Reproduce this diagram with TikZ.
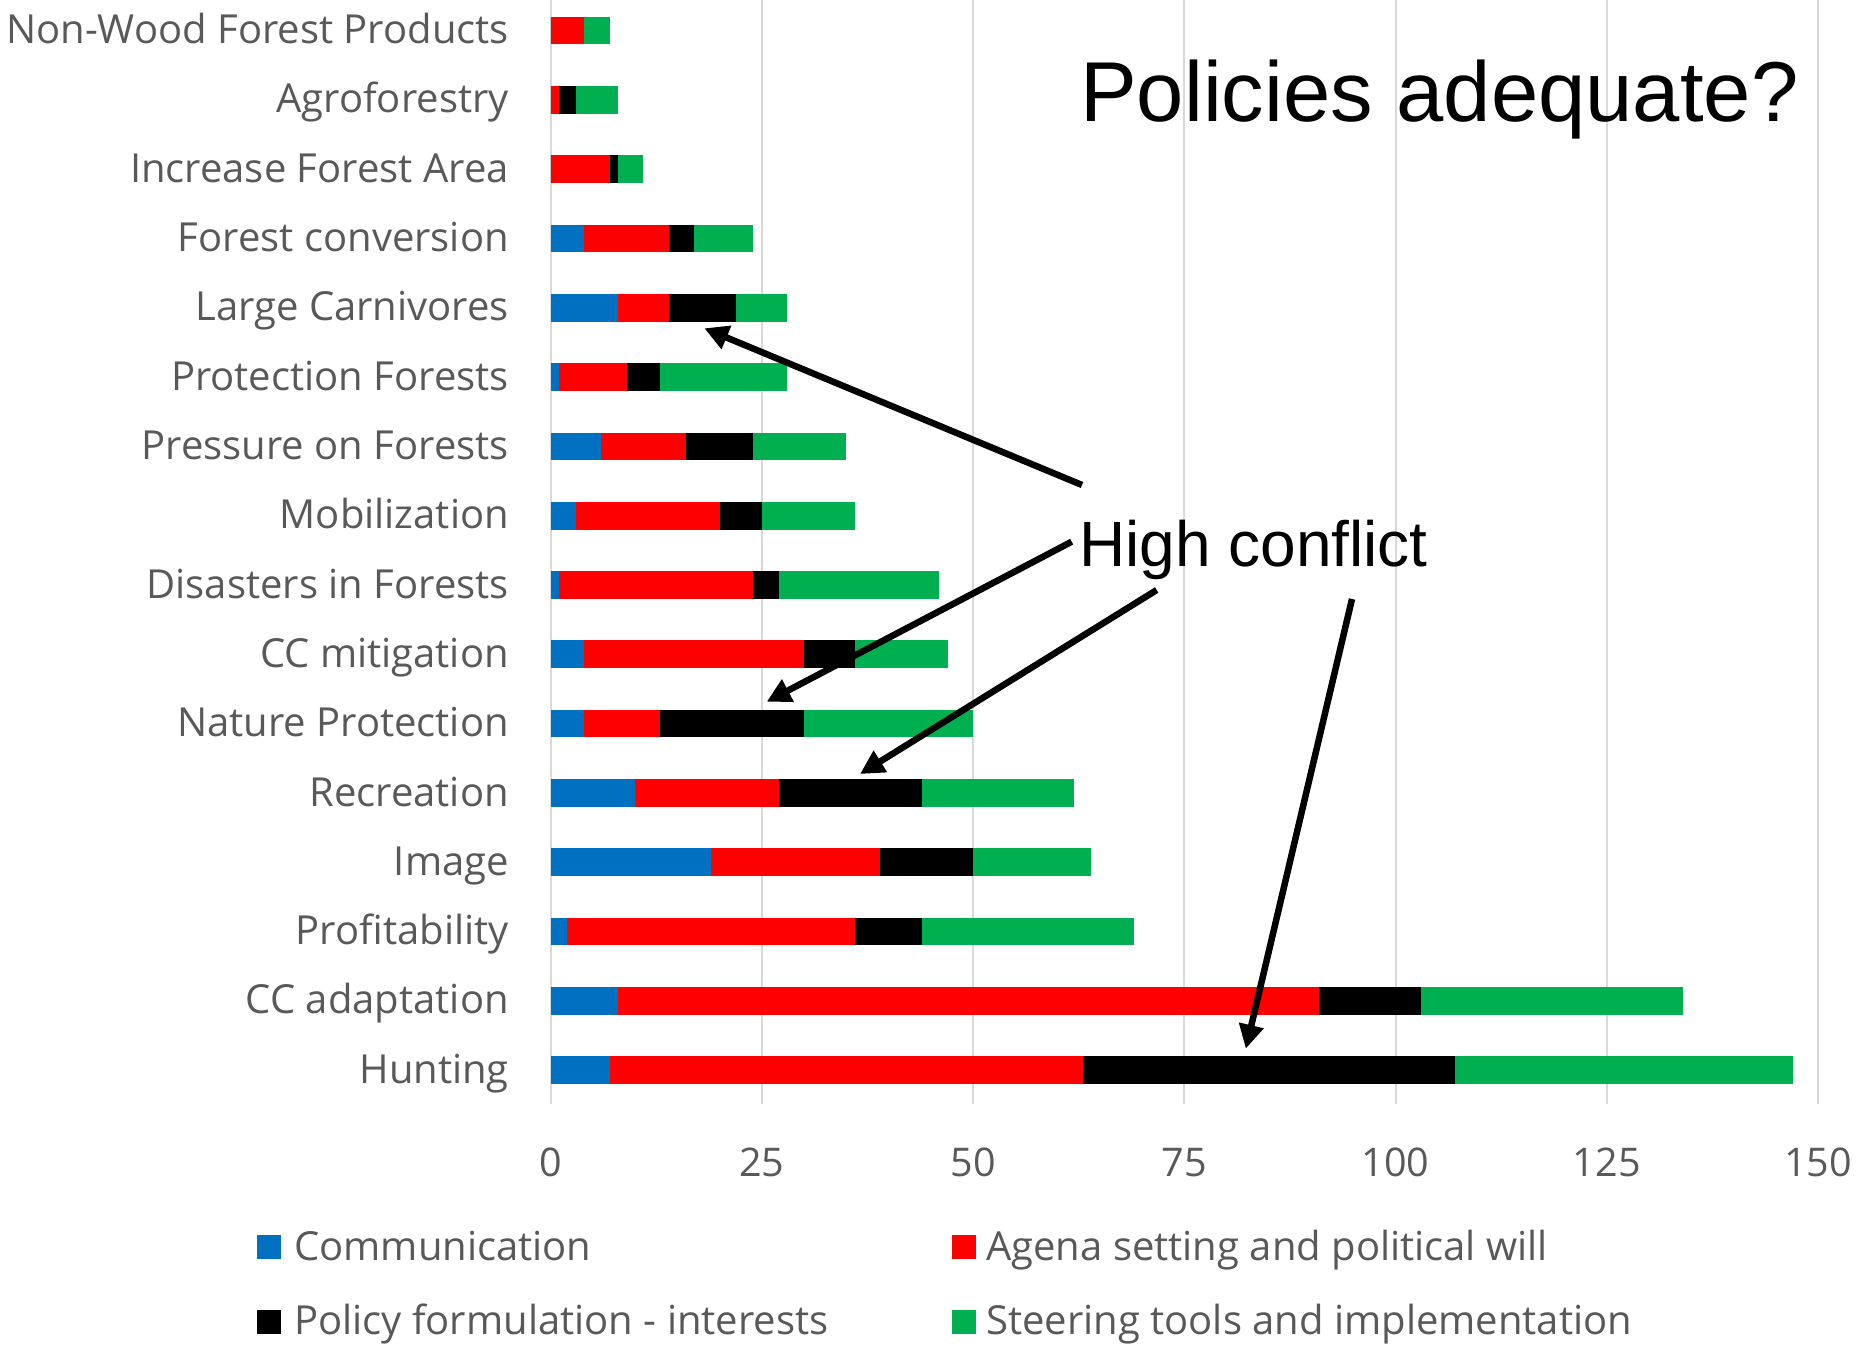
\documentclass[tikz,border=0pt]{standalone}
\usepackage{fontspec}
\setmainfont{Open Sans}
\newfontfamily\arialf{Liberation Sans}
\usetikzlibrary{arrows.meta}
\definecolor{cblue}{HTML}{0070C0}
\definecolor{cred}{HTML}{FF0000}
\definecolor{cgreen}{HTML}{00B050}
\definecolor{cgrid}{HTML}{D9D9D9}
\definecolor{ctext}{HTML}{595959}
\tikzset{
  catlbl/.style={inner sep=0pt, text=ctext, font=\fontsize{40}{46}\selectfont},
  ticklbl/.style={inner sep=0pt, text=ctext, font=\fontsize{39.5}{45}\selectfont},
  leglbl/.style={inner sep=0pt, text=ctext, font=\fontsize{40}{46}\selectfont, anchor=base west},
  gridln/.style={cgrid, line width=2pt},
  callout/.style={line width=6.5pt, -{Triangle[length=24pt,width=24pt]}},
  bigtxt/.style={inner sep=0pt, text=black, anchor=base west},
}
\begin{document}
\begin{tikzpicture}[x=1pt,y=-1pt]
\useasboundingbox (0,0) rectangle (1865,1348);
\fill[white] (0,0) rectangle (1865,1348);
% grid and ticks
\foreach \v in {0,25,50,75,100,125,150}{
  \pgfmathsetmacro\gx{550.5+8.45*\v}
  \draw[gridln] (\gx,0) -- (\gx,1104);
  \node[ticklbl, anchor=base] (tick\v) at (\gx,1176) {\v};
}
% bars
\foreach \i/\lab/\a/\b/\c/\d in {
  0/Non-Wood Forest Products/0/4/0/3,
  1/Agroforestry/0/1/2/5,
  2/Increase Forest Area/0/7/1/3,
  3/Forest conversion/4/10/3/7,
  4/Large Carnivores/8/6/8/6,
  5/Protection Forests/1/8/4/15,
  6/Pressure on Forests/6/10/8/11,
  7/Mobilization/3/17/5/11,
  8/Disasters in Forests/1/23/3/19,
  9/CC mitigation/4/26/6/11,
  10/Nature Protection/4/9/17/20,
  11/Recreation/10/17/17/18,
  12/Image/19/20/11/14,
  13/Profitability/2/34/8/25,
  14/CC adaptation/8/83/12/31,
  15/Hunting/7/56/44/40}{
  \pgfmathsetmacro\yt{16.7+69.3*\i}
  \pgfmathsetmacro\yb{\yt+27.7}
  \pgfmathsetmacro\xo{550.5}
  \pgfmathsetmacro\xa{550.5+8.45*\a}
  \pgfmathsetmacro\xb{550.5+8.45*(\a+\b)}
  \pgfmathsetmacro\xc{550.5+8.45*(\a+\b+\c)}
  \pgfmathsetmacro\xd{550.5+8.45*(\a+\b+\c+\d)}
  \fill[cblue] (\xo,\yt) rectangle (\xa,\yb);
  \fill[cred] (\xa,\yt) rectangle (\xb,\yb);
  \fill[black] (\xb,\yt) rectangle (\xc,\yb);
  \fill[cgreen] (\xc,\yt) rectangle (\xd,\yb);
  \node[catlbl, anchor=base east] (lab\i) at (509,\yt+27) {\lab};
}
% title and annotation
\node[bigtxt, font=\arialf\fontsize{85}{95}\selectfont] (title) at (1080,122) {Policies adequate?};
\node[bigtxt, font=\arialf\fontsize{64}{72}\selectfont] (hc) at (1079,566.7) {High conflict};
\coordinate (s1) at (1082,485);
\coordinate (t1) at (704.3,328.3);
\coordinate (s2) at (1071.7,541.7);
\coordinate (t2) at (766.7,701.7);
\coordinate (s3) at (1156.7,590);
\coordinate (t3) at (860,774);
\coordinate (s4) at (1352,599);
\coordinate (t4) at (1245.8,1048.7);
\draw[callout] (s1) -- (t1);
\draw[callout] (s2) -- (t2);
\draw[callout] (s3) -- (t3);
\draw[callout] (s4) -- (t4);
% legend
\fill[cblue] (257,1235) rectangle (281,1259);
\node[leglbl] (lg1) at (294,1260.5) {Communication};
\fill[cred] (951.5,1235) rectangle (975.5,1259);
\node[leglbl] (lg2) at (986,1260.5) {Agena setting and political will};
\fill[black] (257,1310) rectangle (281,1334);
\node[leglbl] (lg3) at (294,1334.5) {Policy formulation - interests};
\fill[cgreen] (951.5,1310) rectangle (975.5,1334);
\node[leglbl] (lg4) at (986,1334.5) {Steering tools and implementation};
\end{tikzpicture}
\end{document}
